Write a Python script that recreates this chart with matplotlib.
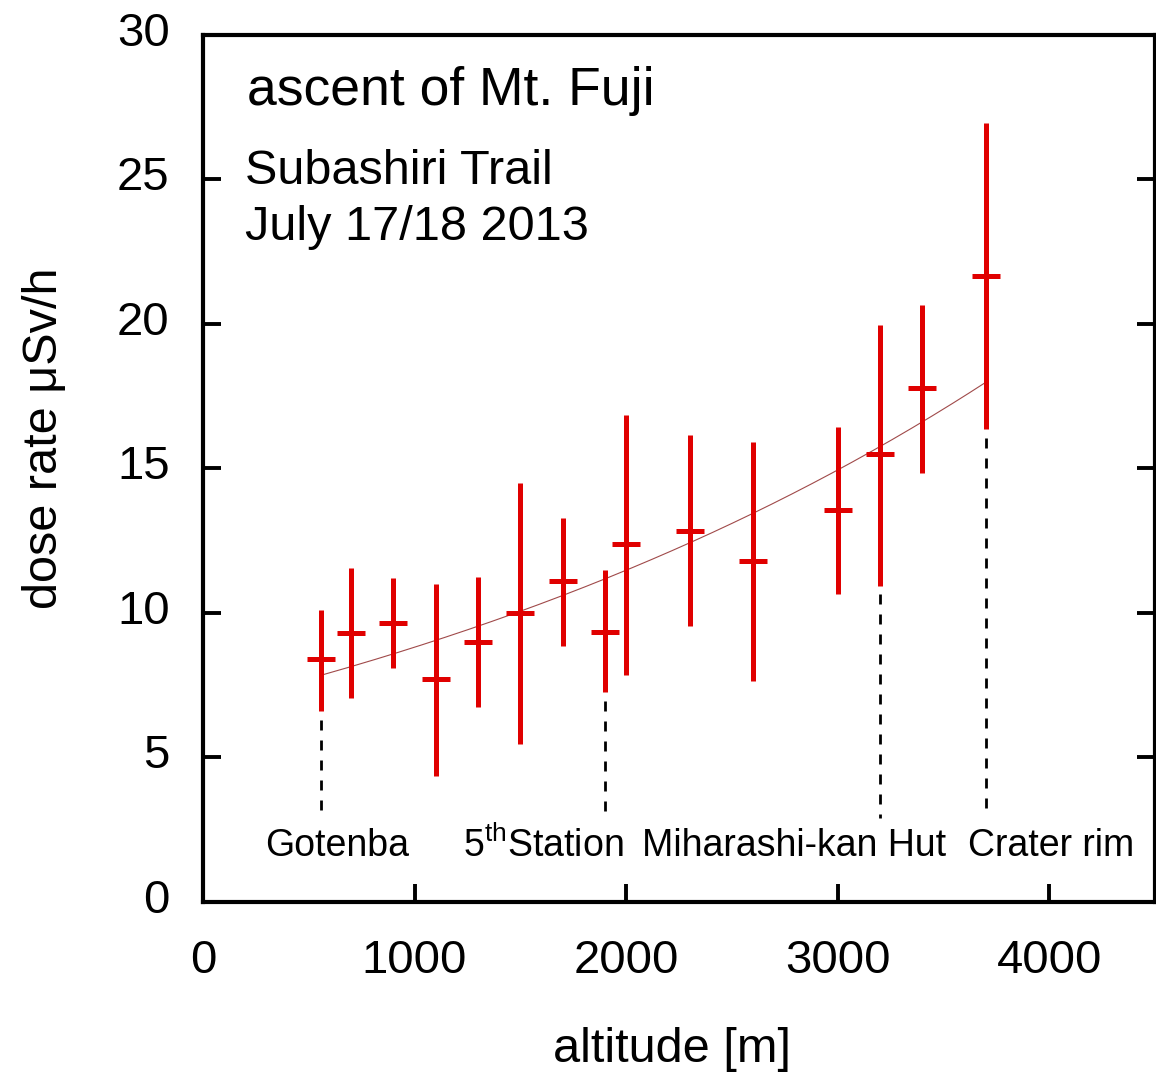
import numpy as np
import matplotlib
matplotlib.use("Agg")
import matplotlib.pyplot as plt
from matplotlib.transforms import ScaledTranslation

plt.rcParams['font.family'] = ['Liberation Sans', 'DejaVu Sans']
plt.rcParams['mathtext.fontset'] = 'custom'
plt.rcParams['mathtext.rm'] = 'Liberation Sans'
plt.rcParams['mathtext.it'] = 'Liberation Sans'

# data
altitude = [560, 700, 900, 1100, 1300, 1500, 1700, 1900, 2000, 2300, 2600, 3000, 3200, 3400, 3700]
dose = [8.4, 9.3, 9.65, 7.7, 9.0, 10.0, 11.1, 9.35, 12.4, 12.85, 11.8, 13.55, 15.5, 17.8, 21.65]
dose_hi = [10.1, 11.55, 11.2, 11.0, 11.25, 14.5, 13.3, 11.5, 16.85, 16.15, 15.9, 16.45, 19.95, 20.65, 26.95]
dose_lo = [6.6, 7.05, 8.1, 4.35, 6.75, 5.45, 8.85, 7.25, 7.85, 9.55, 7.65, 10.65, 10.95, 14.85, 16.35]

# exponential fit parameters  dose = fit_a * exp(fit_b * altitude)
fit_a = 6.77
fit_b = 2.64e-4
fit_range = [560, 3700]

station_names = ["Gotenba", r"5$^{\rm th}$Station", "Miharashi-kan Hut", "Crater rim"]
station_alt = [560, 1900, 3200, 3700]
station_label_x = [635, 1610, 2795, 4010]

xticks = [0, 1000, 2000, 3000, 4000]
yticks = [0, 5, 10, 15, 20, 25, 30]

fig = plt.figure(figsize=(11.56, 10.73), dpi=100)
ax = fig.add_axes([0.1756, 0.1594, 0.8235, 0.808])

red = '#e00000'
alt = np.array(altitude)
d = np.array(dose)
lo = np.array(dose_lo)
hi = np.array(dose_hi)
ax.vlines(alt, lo, hi, colors=red, linewidth=3.6, zorder=3)
ax.plot(alt, d, linestyle='none', marker='_', markersize=20, markeredgewidth=3.6,
        color=red, zorder=3)

xf = np.linspace(fit_range[0], fit_range[1], 200)
ax.plot(xf, fit_a * np.exp(fit_b * xf), color='#a04a4a', linewidth=0.8, zorder=2)

# dashed station lines
for sx in station_alt:
    i = altitude.index(sx)
    ax.plot([sx, sx], [dose_lo[i] - 0.3, 2.9], color='black', linewidth=2.0,
            dashes=(3.6, 3.6), zorder=1)
for name, lx in zip(station_names, station_label_x):
    ax.text(lx, 1.95, name, ha='center', va='center', fontsize=27)

ax.text(0.046, 0.935, "ascent of Mt. Fuji", transform=ax.transAxes, fontsize=38.5,
        ha='left', va='center')
ax.text(0.044, 0.842, "Subashiri Trail", transform=ax.transAxes, fontsize=35,
        ha='left', va='center')
ax.text(0.044, 0.778, "July 17/18 2013", transform=ax.transAxes, fontsize=35,
        ha='left', va='center')

ax.set_xlim(0, 4500)
ax.set_ylim(0, 30)
ax.set_xticks(xticks)
ax.set_yticks(yticks)
ax.set_xticklabels([str(v) for v in xticks])
ax.set_yticklabels([str(v) for v in yticks])
ax.tick_params(axis='both', direction='in', labelsize=34, width=2.8, length=13)
ax.tick_params(axis='y', right=True, pad=24)
ax.tick_params(axis='x', top=False, pad=27)
for s in ax.spines.values():
    s.set_linewidth(3)

offset = ScaledTranslation(0, 0.06, fig.dpi_scale_trans)
for lab in ax.get_yticklabels():
    lab.set_transform(lab.get_transform() + offset)

ax.set_xlabel("altitude [m]", fontsize=35)
ax.xaxis.set_label_coords(0.493, -0.144)
ax.set_ylabel("dose rate μSv/h", fontsize=35)
ax.yaxis.set_label_coords(-0.143, 0.535)

fig.savefig("out.png", dpi=100)
